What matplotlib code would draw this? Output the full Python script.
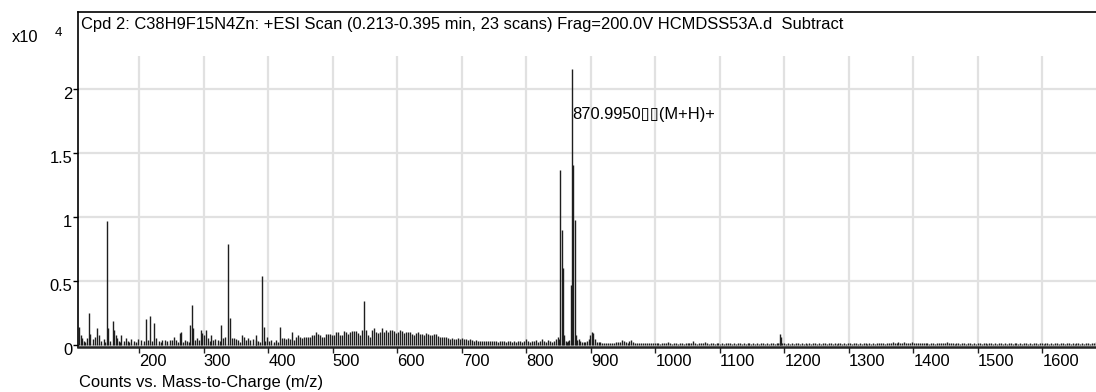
import numpy as np
import matplotlib
matplotlib.use("Agg")
import matplotlib.pyplot as plt
from matplotlib.transforms import ScaledTranslation

plt.rcParams["font.family"] = ["Liberation Sans", "DejaVu Sans"]

# ---- spectrum data (intensity in units of 1e4 counts) ----
low_mz = [106.3, 108.9, 111.4, 114.0, 116.2, 118.3, 121.4, 123.9, 127.6, 130.7,
          134.7, 137.4, 140.5, 144.7, 146.9, 149.4, 151.8, 154.9, 158.7, 160.7,
          163.3, 165.8, 168.9, 170.5, 172.0, 175.7, 178.9, 182.4, 184.5, 186.6,
          191.3, 194.6, 198.0, 202.2, 206.8, 209.9, 213.5, 216.2, 219.7, 223.3,
          226.4, 230.6, 233.0, 235.3, 239.4, 243.5, 247.2, 250.8, 253.9, 257.5,
          260.1, 262.8, 265.3, 268.0, 270.5, 274.6, 276.9, 279.3, 281.4, 283.9,
          287.0, 289.7, 292.3, 295.4, 297.9, 300.5, 303.7, 306.8, 309.0, 311.0,
          314.5, 318.1, 322.3, 325.0, 327.4, 330.5, 333.2, 337.5, 339.9, 343.0,
          346.7, 349.8, 353.4, 355.9, 358.5, 361.6, 364.7, 368.9, 372.0, 376.7,
          380.2]
low_int = [0.14, 0.08, 0.055, 0.035, 0.02, 0.055, 0.25, 0.085, 0.045, 0.065,
           0.135, 0.075, 0.035, 0.045, 0.02, 0.97, 0.13, 0.035, 0.19, 0.12,
           0.075, 0.055, 0.03, 0.02, 0.075, 0.03, 0.055, 0.035, 0.02, 0.05,
           0.03, 0.025, 0.05, 0.04, 0.03, 0.2, 0.04, 0.225, 0.03, 0.17,
           0.055, 0.03, 0.02, 0.04, 0.04, 0.03, 0.04, 0.04, 0.065, 0.04,
           0.02, 0.09, 0.1, 0.025, 0.04, 0.03, 0.02, 0.155, 0.31, 0.13,
           0.04, 0.055, 0.04, 0.12, 0.09, 0.08, 0.12, 0.055, 0.03, 0.08,
           0.04, 0.045, 0.04, 0.03, 0.155, 0.055, 0.065, 0.787, 0.21, 0.055,
           0.055, 0.045, 0.04, 0.02, 0.075, 0.06, 0.04, 0.055, 0.04, 0.045,
           0.04]

mid_mz = [381.4, 384.0, 387.1, 390.7, 393.3, 395.3, 398.4, 401.0, 404.7, 408.3,
          412.0, 415.1, 418.6, 421.2, 424.4, 427.5, 430.6, 433.7, 436.8, 439.9,
          443.0, 446.1, 449.3, 452.4, 455.5, 458.6, 461.7, 464.8, 467.9, 471.0,
          474.1, 477.2, 480.3, 483.4, 486.5, 489.6, 492.7, 495.9, 499.0, 502.1,
          505.2, 508.3, 511.4, 514.5, 517.6, 520.7, 523.8, 526.9, 530.0, 533.1,
          536.2, 539.3, 542.4, 545.5, 548.0, 551.7, 554.8, 557.9, 561.0, 564.1,
          567.2, 570.3, 573.4, 576.6, 579.7, 582.8, 585.9, 589.0, 592.1, 595.2,
          598.3, 601.4, 604.5, 607.6, 610.7, 613.8, 616.9, 620.0, 623.1, 626.2,
          629.3, 632.5, 635.6, 638.7, 641.8, 644.9, 648.0, 651.1, 654.2]
mid_int = [0.08, 0.03, 0.02, 0.54, 0.14, 0.03, 0.065, 0.03, 0.04, 0.02,
           0.04, 0.02, 0.14, 0.055, 0.055, 0.05, 0.055, 0.045, 0.1, 0.04,
           0.065, 0.075, 0.06, 0.055, 0.065, 0.06, 0.065, 0.065, 0.075, 0.08,
           0.1, 0.085, 0.075, 0.065, 0.06, 0.085, 0.085, 0.085, 0.075, 0.075,
           0.1, 0.1, 0.08, 0.075, 0.11, 0.105, 0.085, 0.1, 0.11, 0.11,
           0.11, 0.09, 0.08, 0.12, 0.344, 0.12, 0.08, 0.06, 0.12, 0.13,
           0.105, 0.09, 0.1, 0.13, 0.105, 0.12, 0.1, 0.12, 0.12, 0.11,
           0.09, 0.105, 0.12, 0.11, 0.09, 0.1, 0.1, 0.1, 0.085, 0.08,
           0.09, 0.1, 0.085, 0.085, 0.08, 0.09, 0.085, 0.08, 0.08]

high_mz = [657.3, 660.5, 663.6, 666.7, 669.8, 672.9, 676.0, 679.1, 682.2, 685.3,
           688.4, 691.5, 694.6, 697.7, 700.8, 703.9, 707.0, 710.1, 713.2, 716.3,
           719.4, 722.5, 725.6, 728.7, 731.8, 734.9, 738.0, 741.1, 744.2, 747.3,
           750.4, 753.5, 756.6, 759.7, 762.8, 765.9, 769.0, 772.1, 775.2, 778.3,
           781.4, 784.5, 787.6, 790.7, 793.8, 796.9, 799.3, 802.4, 805.5, 808.6,
           811.7, 814.8, 817.9, 821.0, 824.5, 827.6, 830.7, 833.8, 836.9, 840.0,
           843.1, 846.2, 849.3]
high_int = [0.085, 0.0885, 0.07, 0.065, 0.06, 0.065, 0.06, 0.055, 0.05, 0.055,
            0.05, 0.05, 0.055, 0.05, 0.057, 0.05, 0.05, 0.04, 0.045, 0.04,
            0.035, 0.04, 0.035, 0.035, 0.03, 0.035, 0.03, 0.035, 0.03, 0.03,
            0.035, 0.03, 0.025, 0.03, 0.035, 0.03, 0.025, 0.03, 0.03, 0.025,
            0.03, 0.025, 0.035, 0.03, 0.025, 0.035, 0.05, 0.03, 0.025, 0.035,
            0.03, 0.04, 0.025, 0.03, 0.05, 0.03, 0.025, 0.04, 0.03, 0.025,
            0.035, 0.05, 0.06]

# molecular ion cluster and the ions just above it
ion_mz = [851.0, 853.0, 855.0, 857.0, 859.0, 861.0, 863.0, 865.0, 867.0,
          869.0, 870.995, 873.0, 875.0, 877.0, 879.0, 881.5, 884.0, 886.5,
          889.0, 891.5, 894.0, 896.5, 899.0, 901.5, 904.0, 906.5, 909.0,
          1193.0, 1195.0]
ion_int = [0.05, 1.367, 0.90, 0.60, 0.08, 0.03, 0.025, 0.03, 0.04,
           0.47, 2.16, 1.41, 0.98, 0.08, 0.04, 0.05, 0.03, 0.026,
           0.025, 0.026, 0.03, 0.05, 0.08, 0.1, 0.09, 0.05, 0.025,
           0.085, 0.065]

# low-level tail, sampled every 3 m/z from 912
tail_start, tail_step = 912.0, 3.0
tail_int = [
    0.02, 0.02, 0.015, 0.015, 0.018, 0.015, 0.015, 0.018, 0.015, 0.02,
    0.02, 0.025, 0.04, 0.035, 0.02, 0.015, 0.03, 0.04, 0.02, 0.015,
    0.015, 0.012, 0.015, 0.015, 0.012, 0.018, 0.015, 0.012, 0.015, 0.015,
    0.012, 0.012, 0.01, 0.012, 0.012, 0.015, 0.02, 0.012, 0.01, 0.012,
    0.012, 0.01, 0.012, 0.012, 0.01, 0.012, 0.012, 0.015, 0.012, 0.03,
    0.012, 0.01, 0.012, 0.012, 0.015, 0.02, 0.012, 0.01, 0.012, 0.012,
    0.01, 0.012, 0.012, 0.01, 0.012, 0.01, 0.012, 0.015, 0.012, 0.01,
    0.012, 0.01, 0.012, 0.012, 0.01, 0.012, 0.01, 0.012, 0.012, 0.01,
    0.012, 0.01, 0.012, 0.01, 0.012, 0.012, 0.01, 0.012, 0.01, 0.012,
    0.012, 0.01, 0.012, 0.015, 0.012, 0.015, 0.012, 0.01, 0.012, 0.01,
    0.012, 0.01, 0.012, 0.012, 0.01, 0.012, 0.01, 0.012, 0.01, 0.012,
    0.01, 0.012, 0.012, 0.01, 0.012, 0.01, 0.012, 0.012, 0.01, 0.012,
    0.012, 0.01, 0.012, 0.01, 0.012, 0.012, 0.01, 0.012, 0.01, 0.012,
    0.012, 0.01, 0.012, 0.012, 0.01, 0.012, 0.01, 0.012, 0.012, 0.01,
    0.012, 0.01, 0.012, 0.01, 0.012, 0.012, 0.015, 0.012, 0.01, 0.015,
    0.018, 0.015, 0.02, 0.015, 0.018, 0.02, 0.015, 0.018, 0.02, 0.015,
    0.018, 0.015, 0.02, 0.018, 0.015, 0.018, 0.015, 0.012, 0.015, 0.012,
    0.012, 0.01, 0.012, 0.012, 0.01, 0.012, 0.012, 0.015, 0.012, 0.015,
    0.02, 0.015, 0.012, 0.012, 0.01, 0.012, 0.012, 0.01, 0.012, 0.012,
    0.01, 0.012, 0.012, 0.01, 0.012, 0.01, 0.012, 0.012, 0.01, 0.012,
    0.012, 0.01, 0.012, 0.012, 0.01, 0.012, 0.01, 0.012, 0.012, 0.01,
    0.012, 0.01, 0.012, 0.012, 0.01, 0.012, 0.012, 0.01, 0.012, 0.01,
    0.012, 0.012, 0.01, 0.012, 0.01, 0.012, 0.012, 0.01, 0.012, 0.012,
    0.01, 0.012, 0.012, 0.01, 0.012, 0.01, 0.012, 0.012, 0.01, 0.012,
    0.012, 0.01, 0.012, 0.012, 0.01, 0.012, 0.01, 0.012, 0.012, 0.01,
    0.012, 0.01, 0.012, 0.012, 0.01, 0.012, 0.015, 0.02]
tail_mz = tail_start + tail_step * np.arange(len(tail_int))

x_ticks = [200, 300, 400, 500, 600, 700, 800, 900, 1000, 1100, 1200,
           1300, 1400, 1500, 1600]
y_ticks = [0, 0.5, 1, 1.5, 2]
y_tick_labels = ["0", "0.5", "1", "1.5", "2"]

title = ("Cpd 2: C38H9F15N4Zn: +ESI Scan (0.213-0.395 min, 23 scans) "
         "Frag=200.0V HCMDSS53A.d  Subtract")
peak_label = "870.9950\u25af\u25af(M+H)+"
labelled_mz, labelled_int = 870.995, 2.16

# ---- figure ----
W, H, DPI = 1096, 392, 100
fig = plt.figure(figsize=(W / DPI, H / DPI), dpi=DPI)
ax = fig.add_axes([78 / W, (H - 346.5) / H, 1 - 78 / W, (346.5 - 12) / H])

FS = 11.9
ax.set_xlim(105, 1683.3)
ax.set_ylim(-0.0117, 2.6016)

grid_c = "#e1e1e1"
ax.set_yticks(y_ticks)
ax.set_yticklabels(y_tick_labels)
ax.grid(axis="y", color=grid_c, lw=1.6, zorder=0)
ax.vlines(x_ticks, 0, 2.258, color=grid_c, lw=1.6, zorder=0)

bar_c = "#1e1e1e"
for mz, inten in ((low_mz, low_int), (mid_mz, mid_int), (high_mz, high_int),
                  (ion_mz, ion_int), (tail_mz, tail_int)):
    ax.vlines(mz, 0, inten, color=bar_c, lw=1.0, zorder=2)

ax.text(labelled_mz, 1.765, peak_label, fontsize=FS, ha="left",
        va="baseline", zorder=3)

ax.set_xticks(x_ticks)
ax.set_xticklabels([str(t) for t in x_ticks])
for lbl in ax.get_xticklabels():
    lbl.set_ha("left")
ax.tick_params(axis="x", direction="out", length=4.3, width=1.0, pad=1,
               labelsize=FS, color="#222222")
ax.tick_params(axis="y", direction="out", length=3.6, width=1.0, pad=0.5,
               labelsize=FS)
shift = ScaledTranslation(0, -4 / DPI, fig.dpi_scale_trans)
for lbl in ax.get_yticklabels():
    lbl.set_transform(lbl.get_transform() + shift)

ax.spines["right"].set_visible(False)
ax.spines["left"].set_linewidth(1.2)
ax.spines["top"].set_linewidth(1.2)
ax.spines["bottom"].set_linewidth(1.8)
ax.spines["bottom"].set_color("#222222")

fig.text(81 / W, 1 - 29.3 / H, title, fontsize=FS, ha="left", va="baseline")
fig.text(12 / W, 1 - 41.7 / H, "x10", fontsize=FS, ha="left", va="baseline")
fig.text(55 / W, 1 - 36 / H, "4", fontsize=9.5, ha="left", va="baseline")
fig.text(79 / W, 1 - 387.3 / H, "Counts vs. Mass-to-Charge (m/z)",
         fontsize=FS, ha="left", va="baseline")

fig.savefig("out.png", dpi=DPI)
